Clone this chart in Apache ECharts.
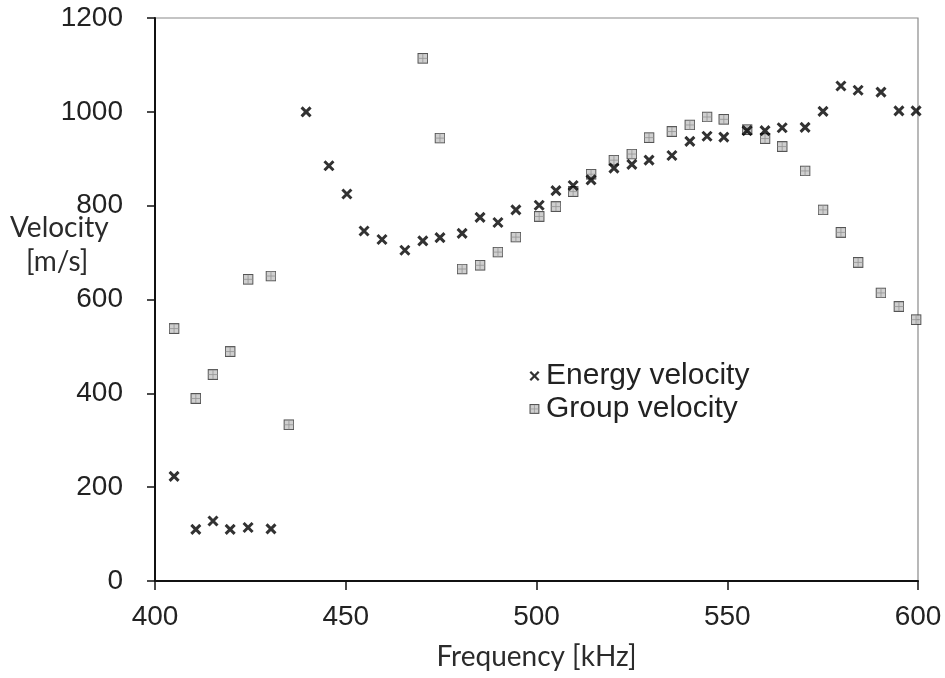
<!DOCTYPE html>
<html>
<head>
<meta charset="utf-8">
<script src="https://cdn.jsdelivr.net/npm/echarts@6/dist/echarts.min.js"></script>
<style>html,body{margin:0;padding:0;background:#fff}#c{width:945px;height:678px}</style>
</head>
<body>
<div id="c"></div>
<script>
// Energy velocity: frequency [kHz], velocity [m/s]
const energyFreq = [405.0, 410.7, 415.2, 419.7, 424.4, 430.4, 439.6, 445.6, 450.3, 454.8, 459.5, 465.5, 470.2, 474.7, 480.5, 485.2, 489.9, 494.6, 500.7, 505.1, 509.6, 514.3, 520.3, 525.0, 529.5, 535.5, 540.2, 544.7, 549.1, 555.2, 559.9, 564.4, 570.4, 575.1, 579.8, 584.3, 590.3, 595.0, 599.5];
const energyVel  = [223, 110, 128, 110, 114, 111, 1000, 885, 825, 746, 728, 705, 725, 732, 741, 775, 764, 791, 801, 832, 843, 855, 880, 888, 897, 907, 937, 948, 946, 960, 960, 966, 967, 1001, 1055, 1046, 1042, 1002, 1002];
// Group velocity
const groupFreq = [405.0, 410.7, 415.2, 419.7, 424.4, 430.4, 435.1, 470.2, 474.7, 480.5, 485.2, 489.9, 494.6, 500.7, 505.1, 509.6, 514.3, 520.3, 525.0, 529.5, 535.5, 540.2, 544.7, 549.1, 555.2, 559.9, 564.4, 570.4, 575.1, 579.8, 584.3, 590.3, 595.0, 599.5];
const groupVel  = [538, 389, 440, 489, 643, 650, 333, 1114, 944, 665, 673, 701, 733, 777, 798, 830, 867, 897, 910, 945, 958, 972, 989, 984, 962, 943, 926, 874, 791, 743, 679, 614, 585, 557];
const xTicks = [400, 450, 500, 550, 600];
const yTicks = [0, 200, 400, 600, 800, 1000, 1200];

function svgUri(w, h, body) {
  return 'image://data:image/svg+xml;charset=utf-8,' + encodeURIComponent(
    '<svg xmlns="http://www.w3.org/2000/svg" width="' + w + '" height="' + h + '" viewBox="0 0 ' + w + ' ' + h + '">' + body + '</svg>');
}
const crossBody = '<path d="M1.5,1.5 L10.5,10.5 M10.5,1.5 L1.5,10.5" stroke="#000" stroke-width="3" fill="none"/>';
const squareBody = '<rect x="0.6" y="0.6" width="9.8" height="9.8" fill="#c4c4c4" stroke="#2a2a2a" stroke-width="1.2"/><path d="M5.5,1 L5.5,10 M1,5.5 L10,5.5" stroke="#7a7a7a" stroke-width="0.8"/>';
const crossSym = svgUri(12, 12, crossBody);
const squareSym = svgUri(11, 11, squareBody);
const crossIcon = svgUri(12, 11, '<path d="M1.3,1.3 L9.7,9.7 M9.7,1.3 L1.3,9.7" stroke="#000" stroke-width="2.3" fill="none"/>');
const squareIcon = svgUri(12, 11, '<g transform="translate(0.5,0.5) scale(0.9)">' + squareBody + '</g>');

const labelFont = '"Liberation Sans", Arial, sans-serif';
const titleFont = 'Lato, "Open Sans", sans-serif';

const chart = echarts.init(document.getElementById('c'), null, {renderer: 'canvas'});
chart.setOption({
  animation: false,
  backgroundColor: '#fff',
  grid: {left: 155, right: 27, top: 18, bottom: 97, show: true, borderColor: '#8a8a8a', borderWidth: 1.2, backgroundColor: 'transparent'},
  xAxis: {
    type: 'value', min: xTicks[0], max: xTicks[xTicks.length - 1], interval: 50,
    name: 'Frequency [kHz]', nameLocation: 'middle', nameGap: 62,
    nameTextStyle: {fontFamily: titleFont, fontSize: 28, color: '#2b2b2b'},
    axisLine: {show: true, lineStyle: {color: '#111', width: 2}},
    axisTick: {show: true, inside: false, length: 9, lineStyle: {color: '#111', width: 1.5}},
    axisLabel: {margin: 22, fontFamily: labelFont, fontSize: 28, color: '#222', formatter: v => String(v)},
    splitLine: {show: false}
  },
  yAxis: {
    type: 'value', min: yTicks[0], max: yTicks[yTicks.length - 1], interval: 200,
    axisLine: {show: true, lineStyle: {color: '#111', width: 2}},
    axisTick: {show: true, inside: false, length: 8, lineStyle: {color: '#111', width: 1.5}},
    axisLabel: {margin: 32, fontFamily: labelFont, fontSize: 28, color: '#222', formatter: v => String(v)},
    splitLine: {show: false}
  },
  legend: {
    orient: 'vertical', left: 524, top: 356, itemGap: 3, itemWidth: 12, itemHeight: 11,
    textStyle: {fontFamily: labelFont, fontSize: 30, color: '#222'},
    data: [
      {name: 'Energy velocity', icon: crossIcon},
      {name: 'Group velocity', icon: squareIcon}
    ]
  },
  graphic: [
    {type: 'text', left: 10, top: 214, style: {text: 'Velocity', font: '28px ' + titleFont, fill: '#2b2b2b'}},
    {type: 'text', left: 26, top: 248, style: {text: '[m/s]', font: '28px ' + titleFont, fill: '#2b2b2b'}}
  ],
  series: [
    {name: 'Energy velocity', type: 'scatter', symbol: crossSym, symbolSize: 12,
     data: energyFreq.map((f, i) => [f, energyVel[i]]), z: 3},
    {name: 'Group velocity', type: 'scatter', symbol: squareSym, symbolSize: 11,
     data: groupFreq.map((f, i) => [f, groupVel[i]]), z: 2}
  ]
});
</script>
</body>
</html>
